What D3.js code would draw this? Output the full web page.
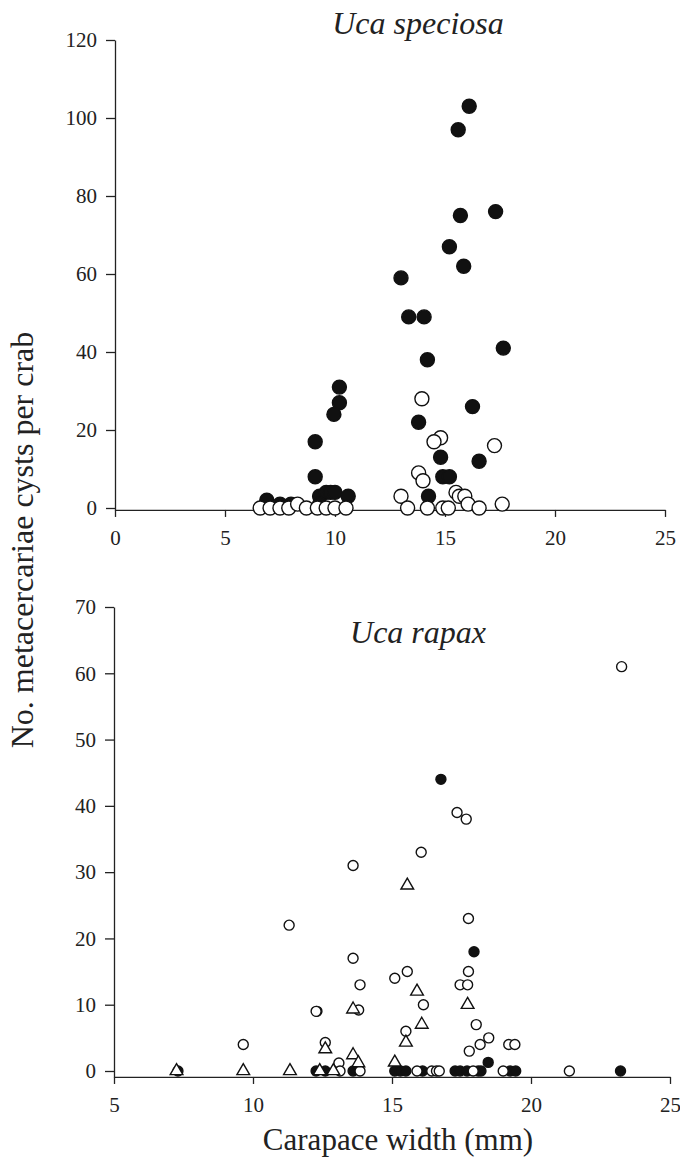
<!DOCTYPE html>
<html>
<head>
<meta charset="utf-8">
<script src="https://cdn.jsdelivr.net/npm/d3@7"></script>
<style>
  body { margin: 0; background: #fff; }
  text { font-family: "Liberation Serif", "Times New Roman", serif; fill: #222; }
</style>
</head>
<body>
<div id="chart"></div>
<script>
const width = 680, height = 1167;

// Uca speciosa: [carapace width mm, cysts]
const speciosaFilled = [
  [16.1, 103], [15.6, 97], [15.7, 75], [17.3, 76], [15.2, 67], [15.85, 62],
  [13.0, 59], [13.35, 49], [14.05, 49], [17.65, 41], [14.2, 38], [16.25, 26],
  [13.8, 22], [14.8, 13], [16.55, 12], [14.9, 8], [15.2, 8], [14.25, 3],
  [10.2, 31], [10.2, 27], [9.95, 24], [9.1, 17], [9.1, 8],
  [6.9, 2], [7.5, 1], [8.0, 1], [9.3, 3], [9.6, 4], [9.8, 4], [10.0, 4], [10.6, 3], [9.3, 1]
];
const speciosaOpen = [
  [13.95, 28], [14.8, 18], [14.5, 17], [17.25, 16], [13.8, 9], [14.0, 7], [13.0, 3],
  [15.5, 4], [15.65, 3], [15.9, 3], [16.05, 1], [17.6, 1],
  [13.3, 0], [14.2, 0], [14.9, 0], [15.15, 0], [16.55, 0],
  [6.6, 0], [7.05, 0], [7.5, 0], [7.9, 0], [8.3, 1], [8.7, 0], [9.2, 0], [9.6, 0], [10.0, 0], [10.5, 0]
];

// Uca rapax
const rapaxFilled = [
  [7.3, 0], [12.3, 9], [12.27, 0], [12.6, 0], [13.6, 0], [15.1, 0], [15.3, 0], [15.5, 0],
  [16.1, 0], [17.27, 0], [17.45, 0], [17.7, 0], [18.1, 0], [18.2, 0], [19.25, 0], [19.45, 0],
  [23.22, 0], [16.76, 44], [17.95, 18], [18.46, 1.3]
];
const rapaxOpen = [
  [9.65, 4], [11.3, 22], [12.27, 9], [12.6, 4.3], [13.09, 1.2], [13.13, 0], [13.8, 9.2],
  [13.6, 31], [13.6, 17], [13.85, 13], [13.85, 0], [15.1, 14], [15.55, 15], [15.5, 6],
  [16.05, 33], [16.13, 10], [17.34, 39], [17.67, 38], [17.75, 23], [17.75, 15],
  [17.45, 13], [17.72, 13], [18.03, 7], [18.48, 5], [18.17, 4], [17.78, 3],
  [19.2, 4], [19.42, 4], [15.9, 0], [16.43, 0], [16.6, 0], [16.7, 0], [17.92, 0],
  [19.0, 0], [21.38, 0], [23.26, 61]
];
const rapaxTriangle = [
  [7.25, 0], [9.65, 0], [11.33, 0], [12.4, 0], [12.6, 3.3], [12.89, 0], [13.6, 9.3],
  [13.6, 2.4], [13.79, 1.2], [15.1, 1.3], [15.55, 28], [15.9, 12], [16.07, 7],
  [15.5, 4.3], [17.72, 10]
];

const topXTicks = [0, 5, 10, 15, 20, 25];
const topYTicks = [0, 20, 40, 60, 80, 100, 120];
const botXTicks = [5, 10, 15, 20, 25];
const botYTicks = [0, 10, 20, 30, 40, 50, 60, 70];

const svg = d3.select("#chart").append("svg")
  .attr("width", width)
  .attr("height", height);

const ink = "#222";

function styleAxis(g) {
  g.selectAll("path, line").attr("stroke", ink).attr("stroke-width", 1.3);
  g.selectAll("text").style("font-size", "21px").attr("fill", ink);
}

function panel(cfg) {
  const x = d3.scaleLinear().domain(cfg.xDomain).range(cfg.xRange);
  const y = d3.scaleLinear().domain(cfg.yDomain).range(cfg.yRange);
  const axisY = y(cfg.xAxisAt);

  // y axis runs down to the x axis line
  const yExt = y.copy().domain([cfg.xAxisAt, cfg.yDomain[1]]).range([axisY, cfg.yRange[1]]);

  svg.append("g")
    .attr("transform", `translate(0,${axisY})`)
    .call(d3.axisBottom(x).tickValues(cfg.xTicks).tickSize(7).tickSizeOuter(0).tickPadding(13))
    .call(styleAxis);

  svg.append("g")
    .attr("transform", `translate(${cfg.xRange[0]},0)`)
    .call(d3.axisLeft(yExt).tickValues(cfg.yTicks).tickSize(9).tickSizeOuter(0).tickPadding(9))
    .call(styleAxis);

  svg.append("text")
    .attr("x", cfg.titleX)
    .attr("y", cfg.titleY)
    .attr("text-anchor", "middle")
    .style("font-size", "32px")
    .style("font-style", "italic")
    .text(cfg.title);

  return { x, y };
}

function circles(p, data, r, filled) {
  svg.append("g").selectAll("circle")
    .data(data)
    .join("circle")
    .attr("cx", d => p.x(d[0]))
    .attr("cy", d => p.y(d[1]))
    .attr("r", r)
    .attr("fill", filled ? "#111" : "#fff")
    .attr("stroke", "#111")
    .attr("stroke-width", 1.4);
}

function triangles(p, data, size) {
  svg.append("g").selectAll("path")
    .data(data)
    .join("path")
    .attr("transform", d => `translate(${p.x(d[0])},${p.y(d[1])})`)
    .attr("d", d3.symbol(d3.symbolTriangle, size)())
    .attr("fill", "#fff")
    .attr("stroke", "#111")
    .attr("stroke-width", 1.4);
}

// top panel
const topPanel = panel({
  xDomain: [0, 25], xRange: [115, 665],
  yDomain: [0, 120], yRange: [508, 40],
  xAxisAt: -0.5, xTicks: topXTicks, yTicks: topYTicks,
  title: "Uca speciosa", titleX: 418, titleY: 34
});
circles(topPanel, speciosaFilled, 7, true);
circles(topPanel, speciosaOpen, 7, false);

// bottom panel
const botPanel = panel({
  xDomain: [5, 25], xRange: [114, 670],
  yDomain: [0, 70], yRange: [1071, 607],
  xAxisAt: -0.9, xTicks: botXTicks, yTicks: botYTicks,
  title: "Uca rapax", titleX: 418, titleY: 643
});
circles(botPanel, rapaxFilled, 5, true);
circles(botPanel, rapaxOpen, 5, false);
triangles(botPanel, rapaxTriangle, 70);

// axis titles
svg.append("text")
  .attr("transform", "translate(33,540) rotate(-90)")
  .attr("text-anchor", "middle")
  .style("font-size", "32px")
  .text("No. metacercariae cysts per crab");

svg.append("text")
  .attr("x", 398)
  .attr("y", 1150)
  .attr("text-anchor", "middle")
  .style("font-size", "31px")
  .text("Carapace width (mm)");
</script>
</body>
</html>
